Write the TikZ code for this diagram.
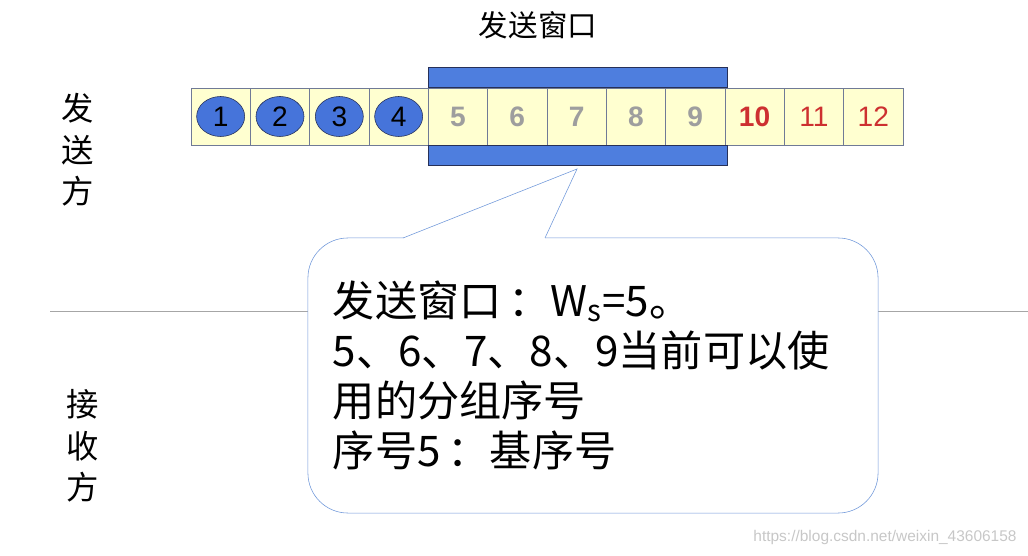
\documentclass[tikz,border=0pt]{standalone}
\usepackage{fontspec}
\setmainfont{Liberation Sans}
\newfontfamily\cjk{Noto Sans CJK SC}
\usetikzlibrary{positioning,shapes.geometric}
\definecolor{WinBlue}{RGB}{78,126,222}
\definecolor{WinEdge}{RGB}{38,48,88}
\definecolor{CellYellow}{RGB}{255,255,208}
\definecolor{CellEdge}{RGB}{112,122,150}
\definecolor{SentBlue}{RGB}{70,116,218}
\definecolor{LateRed}{RGB}{205,48,48}
\definecolor{BubbleEdge}{RGB}{112,152,218}

\begin{document}
\begin{tikzpicture}[
  x=0.025cm, y=-0.025cm,
  cell/.style={
    rectangle,
    draw=CellEdge,
    fill=CellYellow,
    minimum width=1.483cm,
    minimum height=1.425cm,
    inner sep=0pt
  },
  sent/.style={
    ellipse,
    draw=WinEdge,
    fill=SentBlue,
    minimum width=1.2cm,
    minimum height=1.0cm,
    inner sep=0pt,
    font=\fontsize{20}{24}\selectfont
  },
  free/.style={text=black!38, font=\fontsize{20}{24}\selectfont\bfseries},
  late/.style={text=LateRed, font=\fontsize{20}{24}\selectfont},
  bar/.style={
    rectangle,
    draw=WinEdge,
    fill=WinBlue,
    thick,
    minimum width=7.475cm,
    minimum height=0.5cm,
    inner sep=0pt
  },
  side/.style={align=center, font=\cjk\fontsize{23}{29.5}\selectfont},
  bubble/.style={
    rectangle,
    rounded corners=1cm,
    draw=BubbleEdge,
    fill=white,
    align=left,
    text width=13cm,
    inner xsep=0.625cm,
    minimum width=14.25cm,
    minimum height=6.875cm,
    font=\cjk\fontsize{30}{35.5}\selectfont
  }
]

  \useasboundingbox (0,0) rectangle (1028,556);

  % sequence numbers
  \foreach \i in {1,...,12}
    \node[cell] (c\i) at ({191+59.33*(\i-0.5)},116.5) {};

  \foreach \i in {1,...,4}
    \node[sent] (s\i) at (c\i) {\i};
  \foreach \i in {5,...,9}
    \node[free] (n\i) at (c\i) {\i};
  \node[late, font=\fontsize{20}{24}\selectfont\bfseries] (n10) at (c10) {10};
  \node[late] (n11) at (c11) {11};
  \node[late] (n12) at (c12) {12};

  % window
  \node[bar, above=0pt of c7, xshift=0.03cm] (wintop) {};
  \node[bar, below=0pt of c7, xshift=0.03cm] (winbot) {};
  \node[font=\cjk\fontsize{21}{24}\selectfont] (title) at (538,25) {发送窗口};

  \node[side] (sender) at (78,150) {发\\送\\方};
  \node[side] (receiver) at (83,446) {接\\收\\方};

  \draw[black!35] (50,311) -- (1028,311);

  % callout
  \node[bubble] (bubble) at (593,375.5) {发送窗口\,：W\textsubscript{s}=5。\\5、6、7、8、9当前可以使\\用的分组序号\\序号5\,：基序号};
  \coordinate (pl) at (403,238);
  \coordinate (pr) at (545,238);
  \coordinate (tip) at (577,169);
  \fill[white] ([yshift=-1pt]pl) -- (pl) -- (tip) -- (pr) -- ([yshift=-1pt]pr) -- cycle;
  \draw[BubbleEdge] (pl) -- (tip) -- (pr);

  \node[text=black!22, font=\fontsize{11}{13}\selectfont] (mark) at (885,538) {https://blog.csdn.net/weixin\_43606158};

\end{tikzpicture}
\end{document}
